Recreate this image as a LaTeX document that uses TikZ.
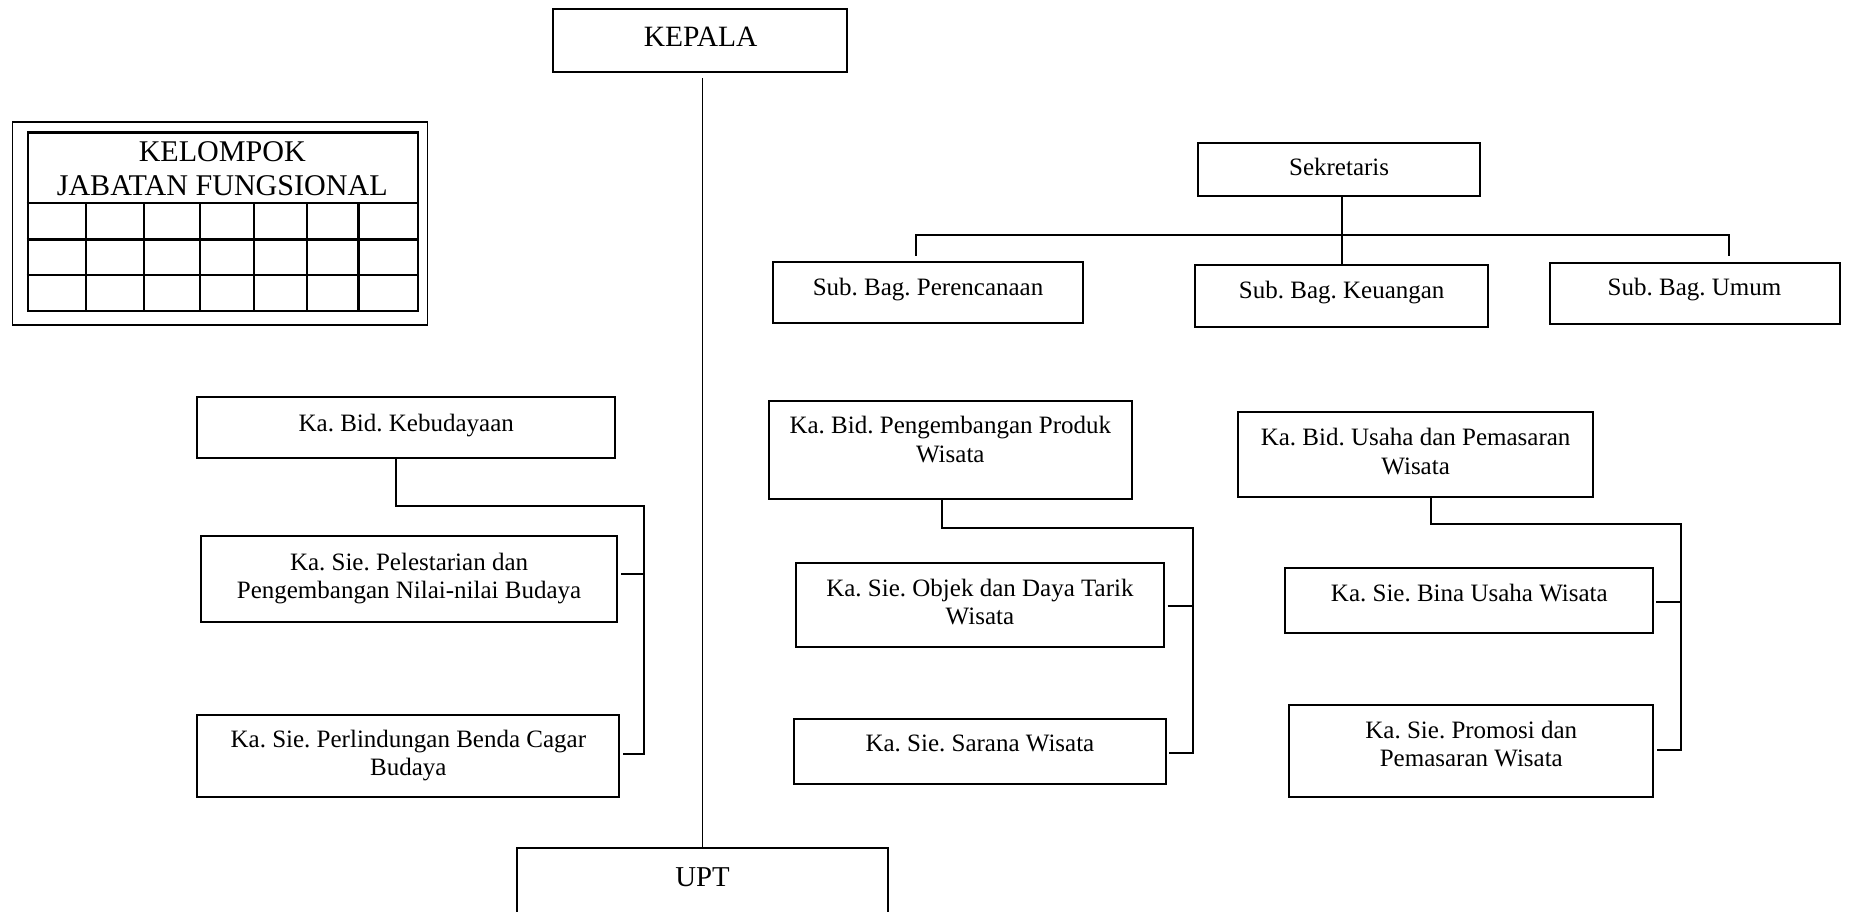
\documentclass[tikz,border=0pt]{standalone}
\usepackage{fontspec}
\setmainfont{Liberation Serif}
\usetikzlibrary{fit,calc}
\frenchspacing
\begin{document}
\begin{tikzpicture}[x=0.5pt,y=-0.5pt,
  box/.style={draw=black, line width=0.85pt, inner sep=0pt},
  ln/.style={draw=black, line width=0.85pt},
  txt/.style={inner sep=0pt, font=\frenchspacing\fontsize{10.6pt}{12pt}\selectfont, align=center},
  big/.style={inner sep=0pt, align=center}]
\useasboundingbox (0,0) rectangle (1568,773);
\clip (0,0) rectangle (1568,773);

% ---------- boxes ----------
\node[box, fit={(469.2,7.9) (718.6,60.8)}] (kepala) {};
\node[box, fit={(438.2,718.9) (753.3,778)}] (upt) {};

\node[box, line width=0.7pt, fit={(10.5,103.2) (362.4,275.6)}] (kgf) {};
\node[box, line width=1pt, fit={(23.5,112.5) (354.2,263.5)}] (kgfin) {};

\node[box, fit={(1016.2,121) (1255.1,165.9)}] (sek) {};
\node[box, fit={(655.8,221.9) (918.1,274.2)}] (perenc) {};
\node[box, fit={(1013.4,224.7) (1262.2,277.6)}] (keu) {};
\node[box, fit={(1314.5,222.7) (1560.4,274.8)}] (umum) {};

\node[box, fit={(167.4,337) (521.6,388.7)}] (kebud) {};
\node[box, fit={(170.2,454.3) (523.5,527.2)}] (pel) {};
\node[box, fit={(167.4,606.3) (525.2,675.6)}] (perl) {};

\node[box, fit={(652.1,339.8) (959.7,423.2)}] (produk) {};
\node[box, fit={(675,477.2) (987.1,548.4)}] (objek) {};
\node[box, fit={(673.6,609.7) (988.5,664.9)}] (sarana) {};

\node[box, fit={(1049.9,349.7) (1351,421.2)}] (usaha) {};
\node[box, fit={(1089.7,481.4) (1402,537.1)}] (bina) {};
\node[box, fit={(1093.4,597.9) (1402,675.6)}] (promosi) {};

% ---------- grid of KELOMPOK JABATAN FUNGSIONAL ----------
\foreach \yy in {172.4,203,233.2}
  \draw[ln, line width=1pt] (kgfin.west |- 0,\yy) -- (kgfin.east |- 0,\yy);
\foreach \xx in {72.9,122.1,169.6,215.4,260.1,303.9}
  \draw[ln, line width=1pt] (\xx,172.4) -- (\xx,0 |- kgfin.south);

% ---------- texts ----------
\node[big, anchor=base, font=\fontsize{12.5pt}{14pt}\selectfont] (tkepala) at (594.2,39.6) {KEPALA};
\node[big, anchor=base, font=\fontsize{12.2pt}{14pt}\selectfont] (tupt) at (595.8,751.4) {UPT};
\node[big, font=\fontsize{12.75pt}{14.15pt}\selectfont] (tkgf) at (188.5,145.6) {\strut KELOMPOK\\\strut JABATAN FUNGSIONAL};

\node[txt, anchor=base] (tsek) at (1135.6,148.4) {Sekretaris};
\node[txt, anchor=base] (tperenc) at (787,250.2) {Sub. Bag. Perencanaan};
\node[txt, anchor=base] (tkeu) at (1137.8,253) {Sub. Bag. Keuangan};
\node[txt, anchor=base] (tumum) at (1437,250.2) {Sub. Bag. Umum};

\node[txt, anchor=base] (tkebud) at (344.5,366.1) {Ka. Bid. Kebudayaan};
\node[txt] (tpel) at (346.9,490.6) {\strut Ka. Sie. Pelestarian dan\\\strut Pengembangan Nilai-nilai Budaya};
\node[txt] (tperl) at (346.3,641.2) {\strut Ka. Sie. Perlindungan Benda Cagar\\\strut Budaya};

\node[txt] (tproduk) at (805.9,375.2) {\strut Ka. Bid. Pengembangan Produk\\\strut Wisata};
\node[txt] (tobjek) at (831,513.2) {\strut Ka. Sie. Objek dan Daya Tarik\\\strut Wisata};
\node[txt, anchor=base] (tsarana) at (831,637) {Ka. Sie. Sarana Wisata};

\node[txt] (tusaha) at (1200.5,385.2) {\strut Ka. Bid. Usaha dan Pemasaran\\\strut Wisata};
\node[txt, anchor=base] (tbina) at (1246,510) {Ka. Sie. Bina Usaha Wisata};
\node[txt] (tpromosi) at (1247.7,633.4) {\strut Ka. Sie. Promosi dan\\\strut Pemasaran Wisata};

% ---------- connectors ----------
% KEPALA to UPT
\draw[ln, line width=0.65pt] ([yshift=-2.4pt]kepala.south -| upt.north) -- (upt.north);

% Sekretaris
\coordinate (busL) at (777,199.3);
\coordinate (busR) at (1466.5,199.3);
\draw[ln] (keu.north |- sek.south) -- (keu.north);
\draw[ln] ([yshift=2pt]perenc.north -| busL) |- (busR) -- ([yshift=2.5pt]umum.north -| busR);

% Kebudayaan
\coordinate (kbus) at (546.4,429);
\draw[ln] ([xshift=-4.35pt]kebud.south) |- (kbus) |- ([xshift=1pt,yshift=0.8pt]perl.east);
\draw[ln] ([xshift=1.15pt,yshift=1.97pt]pel.east) -- ([yshift=1.97pt]pel.east -| kbus);

% Pengembangan Produk Wisata
\coordinate (pbus) at (1012,447.5);
\draw[ln] ([xshift=-3.65pt]produk.south) |- (pbus) |- ([xshift=1.15pt,yshift=-0.8pt]sarana.east);
\draw[ln] ([xshift=1.15pt,yshift=-0.4pt]objek.east) -- ([yshift=-0.4pt]objek.east -| pbus);

% Usaha dan Pemasaran Wisata
\coordinate (ubus) at (1425.1,444.4);
\draw[ln] ([xshift=6.4pt]usaha.south) |- (ubus) |- ([xshift=1.35pt,yshift=0.37pt]promosi.east);
\draw[ln] ([xshift=0.85pt,yshift=-0.47pt]bina.east) -- ([yshift=-0.47pt]bina.east -| ubus);
\end{tikzpicture}
\end{document}
